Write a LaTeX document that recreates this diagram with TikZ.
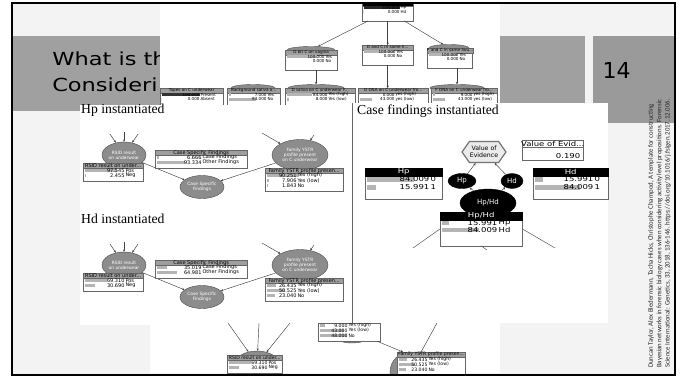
\documentclass[tikz,border=0pt]{standalone}
\usepackage{graphicx}
\usepackage{fontspec}
\setmainfont{Liberation Serif}
\setsansfont{DejaVu Sans}
\newfontfamily\titlefont{DejaVu Sans}
\newfontfamily\citefont{Carlito}
\usetikzlibrary{arrows.meta,shapes.geometric,shapes.symbols}

\definecolor{slidebg}{HTML}{F3F3F3}
\definecolor{bandgrey}{HTML}{A0A0A0}
\definecolor{numgrey}{HTML}{9A9A9A}
\definecolor{nodegrey}{HTML}{8C8C8C}
\definecolor{bargrey}{HTML}{B4B4B4}

\def\monfont{\sffamily\fontsize{5}{5}\selectfont}
\def\monx{1}
\def\hh{5}\def\rh{5}\def\pad{3}\def\barw{33}

% monitor window: [bar length]{name}{x}{y}{width}{number column}{header}{value/label list}
\newcommand{\mon}[8][\barw]{%
  \foreach \val/\lab [count=\i] in {#8} {\xdef\nrows{\i}}
  \node[monbox, anchor=north west, minimum width=#5,
        minimum height={\hh+\nrows*\rh+\pad}] (#2) at (#3,#4) {};
  \node[monhead, anchor=north west, minimum width=#5, minimum height=\hh]
    at (#3,#4) {\scalebox{\monx}[1]{#7}};
  \foreach \val/\lab [count=\i] in {#8} {
    \pgfmathsetmacro\ry{#4+\hh+(\i-0.5)*\rh}
    \fill[barfill] (#3+1.5,\ry-0.32*\rh) rectangle ++({\val*#1/100},0.64*\rh);
    \node[montext, anchor=east] at (#3+#6,\ry) {\val};
    \node[montext, anchor=west] at (#3+#6,\ry) {\lab};
  }
}

\begin{document}
\begin{tikzpicture}[
        x=1pt, y=-1pt,
        link/.style={-{Stealth[length=2.4pt,width=2.2pt]}, draw=black!75, line width=0.45pt},
        plain/.style={draw=black!65, line width=0.5pt},
        bnnode/.style={ellipse, draw=black!70, fill=nodegrey, line width=0.4pt, inner sep=0pt,
                       align=center, text=white, font=\sffamily\fontsize{4.4}{5}\selectfont},
        casenode/.style={ellipse, fill=black, draw=black, inner sep=0pt, text=white,
                         font=\sffamily\fontsize{7}{7}\selectfont},
        voebox/.style={signal, signal to=west and east, signal pointer angle=110,
                       draw=black!55, fill=black!8, line width=1.2pt, minimum width=42,
                       minimum height=21, inner sep=0.5pt, align=center,
                       font=\sffamily\fontsize{6.2}{7}\selectfont},
        monbox/.style={draw=black!60, fill=white, line width=0.4pt, inner sep=0pt},
        monhead/.style={draw=black!60, fill=black!38, line width=0.3pt, inner sep=0pt, font=\monfont},
        montext/.style={inner sep=0.3pt, font=\monfont, xscale=\monx},
        barfill/.style={fill=bargrey},
        heading/.style={inner sep=0pt, font=\fontsize{13.7}{13.7}\selectfont},
        titletext/.style={inner sep=0pt, xscale=1.25, font=\titlefont\fontsize{18}{18}\selectfont},
        cite/.style={inner sep=0pt, align=left, text=black!85,
                     font=\citefont\fontsize{6.8}{8.4}\selectfont},
    ]
    \useasboundingbox (0,0) rectangle (685,378);
    \fill[white] (0,0) rectangle (685,378);
    % slide
    \fill[slidebg] (12,3) rectangle (675,375);
    \fill[bandgrey] (12,36) rectangle (585,111);
    \fill[numgrey] (593,36) rectangle (675,123);
    \node[inner sep=0pt, font=\titlefont\fontsize{22}{22}\selectfont] (slideNum) at (616.5,70) {14};
    \node[titletext, anchor=base west] (titleTop) at (52,65.5) {What is th};
    \node[titletext, anchor=base west] (titleBot) at (52,91) {Consideri};

    % top screenshot
    \begin{scope}
        \clip (160,3) rectangle (500,105);
        \fill[white] (160,3) rectangle (500,105);
        \def\monfont{\sffamily\fontsize{4.1}{4.1}\selectfont}
        \def\hh{4.5}\def\rh{4.5}\def\pad{6}
        \foreach \nm/\cx/\cy/\ew in {dbit/311/50/48, fand/449/48/40, bsal/253/88/44,
                                     dsal/316/88/56, fdna/457/88/54}
            \node[bnnode, minimum width=\ew, minimum height=7] (\nm) at (\cx,\cy) {};
        \begin{scope}[barfill/.style={fill=black!85},
                      monhead/.style={fill=black, draw=black!60, inner sep=0pt, font=\monfont}]
            \mon[36]{topHpM}{362}{1}{51}{38}{}{100.000/Hp, 0.000/Hd}
        \end{scope}
        \begin{scope}[barfill/.style={fill=black!80}]
            \mon[38]{tapesM}{160}{88}{63}{40}{Tapes on C underwear}{100.000/Present, 0.000/Absent}
        \end{scope}
        \mon[30]{dbitM}{285}{50}{52}{40}{D bit C on vagina}{100.000/Yes, 0.000/No}
        \mon[30]{dandM}{362}{45}{51}{34}{D and C in same h...}{100.000/Yes, 0.000/No}
        \mon[28]{fandM}{427}{48}{45}{32}{F and C in same hou...}{100.000/Yes, 0.000/No}
        \mon[30]{bsalM}{227}{88}{53}{40}{Background saliva o...}{7.000/Yes, 93.000/No}
        \mon[30]{dsalM}{285}{88}{70}{43}{D saliva on C underwear F...}{84.000/Yes (high), 8.000/Yes (low)}
        \mon[30]{ddnaM}{358}{88}{70}{37}{D DNA on C underwear fro...}{0.000/yes (high), 43.000/yes (low)}
        \mon[30]{fdnaM}{431}{88}{66}{42}{F DNA on C underwear fro...}{9.000/yes (high), 43.000/yes (low)}
        \draw[link] (topHpM) -- (dbit);
        \draw[link] (topHpM) -- (dandM);
        \draw[link] (topHpM) -- (fand);
        \draw[link] (dsal |- dbitM.south) -- (dsal);
        \draw[link] (dandM.south) -- (dandM.south |- ddnaM.north);
        \draw[link] (fdna |- fandM.south) -- (fdna);
    \end{scope}

    % Hp / Hd instantiated
    \fill[white] (80,105) rectangle (352,325);
    \foreach \dy/\tag/\hyp/\ra/\rb/\ca/\cb/\fa/\fb/\fc in
        {0/A/Hp/97.545/2.455/6.666/93.334/90.251/7.906/1.843,
         110/B/Hd/69.310/30.690/35.019/64.981/26.435/50.525/23.040} {
        \node[heading, anchor=base west] (head\tag) at (81,113.5+\dy) {\hyp\ instantiated};
        \node[bnnode, minimum width=44, minimum height=26] (rsid\tag) at (124,155+\dy) {RSID result\\on underwear};
        \node[bnnode, minimum width=44, minimum height=23] (csf\tag) at (202,187+\dy) {Case Specific\\Findings};
        \node[bnnode, minimum width=56, minimum height=31] (fam\tag) at (300,155+\dy) {Family YSTR\\profile present\\on C underwear};
        \foreach \cx/\cy/\dst [count=\k] in {110/134/rsid, 124/132/rsid, 138/134/rsid, 262/133/fam, 314/135/fam} {
            \coordinate (src\tag\k) at (\cx,\cy+\dy);
            \draw[link] (src\tag\k) -- (\dst\tag);
        }
        \draw[link] (rsid\tag) -- (csf\tag);
        \draw[link] (fam\tag) -- (csf\tag);
        \mon{rsidM\tag}{83}{163+\dy}{60}{42}{RSID result on under...}{\ra/Pos, \rb/Neg}
        \mon[31]{csfM\tag}{155}{150+\dy}{92}{47}{Case Specific Findings}{\ca/Case Findings, \cb/Other Findings}
        \mon[36]{famM\tag}{265}{168+\dy}{78}{32}{Family YSTR profile presen...}{\fa/Yes (high), \fb/Yes (low), \fc/No}
    }

    % Case findings instantiated
    \begin{scope}[monhead/.style={fill=black, draw=black, inner sep=0pt, text=white, font=\monfont}]
        \def\monfont{\sffamily\fontsize{6.8}{6.8}\selectfont}\def\monx{1.25}
        \def\hh{7.5}\def\rh{8}\def\pad{7}
        \fill[white] (352,103) rectangle (608,323);
        \draw[black!60, line width=0.8pt] (352.5,103) -- (352.5,323);
        \node[heading, anchor=base west] (headC) at (357,114) {Case findings instantiated};
        \node[casenode, minimum width=28, minimum height=15] (hp) at (462,181) {Hp};
        \node[casenode, minimum width=22, minimum height=15] (hd) at (512,181) {Hd};
        \node[casenode, minimum width=56, minimum height=28] (hpd) at (488,203) {Hp/Hd};
        \node[voebox] (voe) at (484,152) {Value of\\Evidence};
        \mon[57]{hpM}{365}{168}{77}{65}{Hp}{84.009/0, 15.991/1}
        \mon[54]{hdM}{533}{168}{75}{61}{Hd}{15.991/0, 84.009/1}
        \begin{scope}
            \def\rh{7}\def\pad{12}
            \mon[45]{hpdM}{440}{212}{82}{58}{Hp/Hd}{15.991/Hp, 84.009/Hd}
        \end{scope}
        \node[monbox, anchor=north west, minimum width=61, minimum height=20] (voeM) at (522,140) {};
        \node[montext, anchor=north] (voeHead) at ([yshift=-0.6pt]voeM.north) {Value of Evid...};
        \draw[black!60, line width=0.4pt] (voeM.west |- voeHead.south) -- (voeM.east |- voeHead.south);
        \node[montext, anchor=south east] (voeVal) at ([shift={(-2.5pt,1.5pt)}]voeM.south east) {0.190};
        \draw[link] (hpd) -- (hp);
        \draw[link] (hpd) -- (hd);
        \draw[link] (hp) -- (voe);
        \draw[link] (hd) -- (voe);
        \coordinate (outL) at (413,248);
        \coordinate (outM) at (487,250);
        \coordinate (outR) at (555,248);
        \draw[plain] (hpdM.west) -- (outL);
        \draw[plain] (hpdM.south) -- (outM);
        \draw[plain] (hpdM.east) -- (outR);
    \end{scope}

    % bottom screenshot
    \begin{scope}
        \clip (150,323) rectangle (500,373);
        \fill[white] (150,323) rectangle (500,373);
        \def\monfont{\sffamily\fontsize{4.6}{4.6}\selectfont}
        \def\hh{5}\def\rh{5}\def\pad{3}
        \node[bnnode, minimum width=44, minimum height=26] (rsidC) at (257,364) {};
        \node[bnnode, minimum width=30, minimum height=10] (yMid) at (352,338) {};
        \node[bnnode, minimum width=40, minimum height=40] (famC) at (410,372) {};
        \mon{rsidCM}{227}{355}{55}{41}{RSID result on under...}{69.310/Pos, 30.690/Neg}
        \mon[58]{yMidM}{318}{318}{62}{30}{}{9.000/Yes (high), 43.000/Yes (low), 48.000/No}
        \mon{famCM}{397}{352}{68}{31}{Family YSTR profile presen...}{26.435/Yes (high), 50.525/Yes (low), 23.040/No}
        \foreach \cx/\dst [count=\k] in {228/rsidC, 259/rsidC, 290/rsidC, 437/famC} {
            \coordinate (srcC\k) at (\cx,323);
            \draw[link] (srcC\k) -- (\dst);
        }
        \draw[link] (yMidM) -- (famCM);
    \end{scope}

    % reference
    \node[cite, rotate=90, anchor=north west] (cite) at (648,368)
        {Duncan Taylor, Alex Biedermann, Tacha Hicks, Christophe Champod, A template for constructing\\
         Bayesian networks in forensic biology cases when considering activity level propositions. Forensic\\
         Science International: Genetics, 33, 2018, 136-146. https://doi.org/10.1016/j.fsigen.2017.12.006.};

    \draw[black, line width=2pt] (12,3) rectangle (675,375);
\end{tikzpicture}
\end{document}
